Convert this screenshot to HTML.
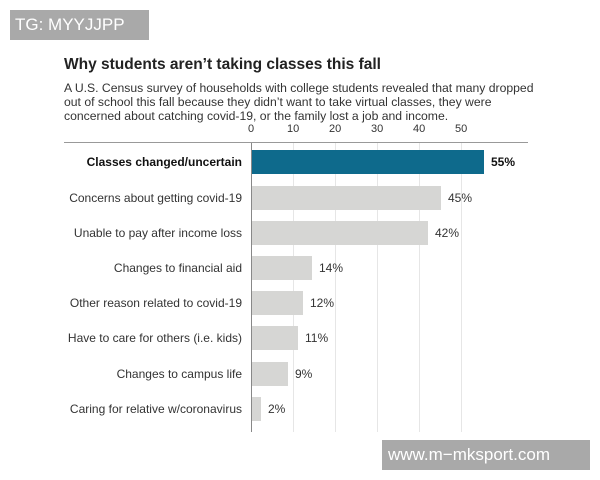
<!DOCTYPE html><html><head><style>
body{margin:0;width:600px;height:480px;background:#fff;font-family:"Liberation Sans",sans-serif;position:relative;overflow:hidden}
.a{position:absolute;white-space:nowrap}
.wm{background:#a9a9a9;color:#fff;font-size:17px;}
.lbl{right:358px;font-size:12px;color:#333;text-align:right}
.v{font-size:12px;color:#333}
.g{position:absolute;top:143px;height:289px;width:1px;background:#e6e6e6}
.b{position:absolute;left:252px;height:24px;background:#d6d6d4}
</style></head><body>
<div class="a wm" style="left:10px;top:10px;width:139px;height:30px;line-height:30px;padding-left:5px;box-sizing:border-box">TG: MYYJJPP</div>
<div class="a" style="left:64px;top:56px;font-size:15.5px;font-weight:bold;color:#222">Why students aren’t taking classes this fall</div>
<div class="a" style="left:64px;top:81px;font-size:12.2px;color:#333;line-height:14px">A U.S. Census survey of households with college students revealed that many dropped<br>out of school this fall because they didn’t want to take virtual classes, they were<br>concerned about catching covid-19, or the family lost a job and income.</div>
<div class="a" style="left:64px;top:142px;width:464px;height:1px;background:#999"></div>
<div class="g" style="left:251px;background:#888"></div>
<div class="g" style="left:293px"></div><div class="g" style="left:335px"></div><div class="g" style="left:377px"></div><div class="g" style="left:419px"></div><div class="g" style="left:461px"></div>
<div class="a v" style="left:248px;top:123px;font-size:11px">0</div>
<div class="a v" style="left:287px;top:123px;font-size:11px">10</div>
<div class="a v" style="left:329px;top:123px;font-size:11px">20</div>
<div class="a v" style="left:371px;top:123px;font-size:11px">30</div>
<div class="a v" style="left:413px;top:123px;font-size:11px">40</div>
<div class="a v" style="left:455px;top:123px;font-size:11px">50</div>
<div class="b" style="top:150px;width:232px;background:#0e6a8c"></div>
<div class="a lbl" style="top:155px;font-weight:bold;color:#111">Classes changed/uncertain</div>
<div class="a v" style="left:491px;top:155px;font-weight:bold;color:#111">55%</div>
<div class="b" style="top:186px;width:189px"></div>
<div class="a lbl" style="top:191px">Concerns about getting covid-19</div>
<div class="a v" style="left:448px;top:191px">45%</div>
<div class="b" style="top:221px;width:176px"></div>
<div class="a lbl" style="top:226px">Unable to pay after income loss</div>
<div class="a v" style="left:435px;top:226px">42%</div>
<div class="b" style="top:256px;width:60px"></div>
<div class="a lbl" style="top:261px">Changes to financial aid</div>
<div class="a v" style="left:319px;top:261px">14%</div>
<div class="b" style="top:291px;width:51px"></div>
<div class="a lbl" style="top:296px">Other reason related to covid-19</div>
<div class="a v" style="left:310px;top:296px">12%</div>
<div class="b" style="top:326px;width:46px"></div>
<div class="a lbl" style="top:331px">Have to care for others (i.e. kids)</div>
<div class="a v" style="left:305px;top:331px">11%</div>
<div class="b" style="top:362px;width:36px"></div>
<div class="a lbl" style="top:367px">Changes to campus life</div>
<div class="a v" style="left:295px;top:367px">9%</div>
<div class="b" style="top:397px;width:9px"></div>
<div class="a lbl" style="top:402px">Caring for relative w/coronavirus</div>
<div class="a v" style="left:268px;top:402px">2%</div>
<div class="a wm" style="left:382px;top:440px;width:208px;height:30px;line-height:30px;padding-left:6px;box-sizing:border-box">www.m−mksport.com</div>
</body></html>
